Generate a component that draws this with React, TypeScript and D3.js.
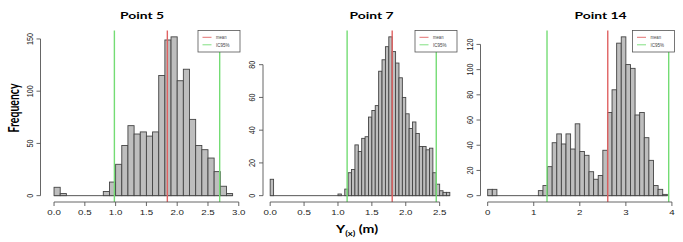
import * as d3 from "d3";

// histogram counts (bin width / start noted per panel)
const p5Counts = [8, 2, 0, 0, 0, 0, 0, 0, 4, 13, 30, 48, 67, 59, 61, 57, 61, 115, 149, 152, 110, 121, 73, 48, 44, 36, 23, 9, 2];
const p7Counts = [
  10, 0, 0, 0, 0, 0, 0, 0, 0, 0, 0, 0, 0, 0, 0, 0, 0, 0, 0, 0,
  1, 0, 4, 14, 16, 31, 27, 35, 36, 48, 52, 55, 76, 83, 91, 97,
  88, 81, 72, 60, 50, 41, 45, 38, 30, 30, 28, 29, 14, 7, 3, 2, 2,
];
const p14Counts = [5, 5, 0, 0, 0, 0, 0, 0, 0, 0, 0, 4, 8, 23, 42, 49, 41, 49, 37, 57, 35, 32, 19, 13, 16, 36, 66, 84, 121, 126, 104, 101, 64, 66, 46, 28, 8, 5, 1];

const p5XTicks = [0, 0.5, 1, 1.5, 2, 2.5, 3];
const p7XTicks = [0, 0.5, 1, 1.5, 2, 2.5];
const p14XTicks = [0, 1, 2, 3, 4];
const p5YTicks = [0, 50, 100, 150];
const p7YTicks = [0, 20, 40, 60, 80];
const p14YTicks = [0, 20, 40, 60, 80, 100, 120];

const titles = ["Point 5", "Point 7", "Point 14"];
const means = [1.84, 1.8, 2.607];
const ic95Low = [0.98, 1.135, 1.288];
const ic95High = [2.69, 2.45, 3.93];
const legendLabels = ["mean", "IC95%"];

const RED = "#e06262";
const GREEN = "#74dc74";
const SX = 1.35; // the picture is stretched sideways

const panels = [
  { counts: p5Counts, start: 0, lo: -0.1, bw: 0.1, xTicks: p5XTicks, fmt: d3.format(".1f"), yTicks: p5YTicks, px: [40.5, 240], titleX: 142 },
  { counts: p7Counts, start: 0, lo: 0, bw: 0.05, xTicks: p7XTicks, fmt: d3.format(".1f"), yTicks: p7YTicks, px: [263, 457], titleX: 371.5 },
  { counts: p14Counts, start: 0, lo: 0, bw: 0.1, xTicks: p14XTicks, fmt: d3.format("d"), yTicks: p14YTicks, px: [480.5, 674.5], titleX: 600.5 },
];

const Panel = ({ i }: { i: number }) => {
  const p = panels[i];
  const hi = p.start + p.counts.length * p.bw;
  const span = hi - p.lo;
  const x = d3.scaleLinear().domain([p.lo - 0.04 * span, hi + 0.04 * span]).range(p.px);
  const maxC = d3.max(p.counts)!;
  const y = d3.scaleLinear().domain([-0.04 * maxC, 1.04 * maxC]).range([202, 30.5]);
  const [left, right] = p.px;
  const top = 30.5;
  const bottom = 202;
  const xt = p.xTicks;
  const yt = p.yTicks;
  const lgX = right - 42;
  const lgY = top;

  return (
    <g>
      <text
        transform={`translate(${p.titleX},19) scale(${SX},1)`}
        textAnchor="middle"
        fontFamily="Lato, sans-serif"
        fontWeight="bold"
        fontSize={10.3}
        fill="#000"
      >
        {titles[i]}
      </text>

      {/* baseline under empty bins */}
      <line x1={x(p.start)} x2={x(hi)} y1={y(0)} y2={y(0)} stroke="#444" strokeWidth={0.9} />
      {p.counts.map((c, k) =>
        c > 0 ? (
          <rect
            key={k}
            x={x(p.start + k * p.bw)}
            y={y(c)}
            width={x(p.start + (k + 1) * p.bw) - x(p.start + k * p.bw)}
            height={y(0) - y(c)}
            fill="#bebebe"
            stroke="#444"
            strokeWidth={0.9}
          />
        ) : null
      )}

      {/* mean and confidence lines */}
      <line x1={x(means[i])} x2={x(means[i])} y1={top} y2={bottom} stroke={RED} strokeWidth={1.4} />
      <line x1={x(ic95Low[i])} x2={x(ic95Low[i])} y1={top} y2={bottom} stroke={GREEN} strokeWidth={1.4} />
      <line x1={x(ic95High[i])} x2={x(ic95High[i])} y1={top} y2={bottom} stroke={GREEN} strokeWidth={1.4} />

      {/* x axis */}
      <line x1={x(xt[0])} x2={x(xt[xt.length - 1])} y1={bottom} y2={bottom} stroke="#555" strokeWidth={0.9} />
      {xt.map((t) => (
        <g key={t}>
          <line x1={x(t)} x2={x(t)} y1={bottom} y2={bottom + 4} stroke="#555" strokeWidth={0.9} />
          <text
            transform={`translate(${x(t)},${bottom + 12.5}) scale(${SX},1)`}
            textAnchor="middle"
            fontFamily="Liberation Sans, Arial, sans-serif"
            fontSize={7.2}
            fill="#222"
          >
            {p.fmt(t)}
          </text>
        </g>
      ))}

      {/* y axis */}
      <line x1={left} x2={left} y1={y(yt[0])} y2={y(yt[yt.length - 1])} stroke="#555" strokeWidth={0.9} />
      {yt.map((t) => (
        <g key={t}>
          <line x1={left - 4} x2={left} y1={y(t)} y2={y(t)} stroke="#555" strokeWidth={0.9} />
          <text
            transform={`translate(${left - 8},${y(t)}) scale(${SX},1) rotate(-90)`}
            textAnchor="middle"
            fontFamily="Liberation Sans, Arial, sans-serif"
            fontSize={7.2}
            fill="#222"
          >
            {t}
          </text>
        </g>
      ))}

      {/* legend */}
      <rect x={lgX} y={lgY} width={42} height={21.5} fill="white" stroke="#555" strokeWidth={0.8} />
      {legendLabels.map((lab, k) => (
        <g key={lab}>
          <line
            x1={lgX + 4.5}
            x2={lgX + 13.5}
            y1={lgY + 6.8 + k * 7.5}
            y2={lgY + 6.8 + k * 7.5}
            stroke={k === 0 ? RED : GREEN}
            strokeWidth={0.9}
          />
          <text
            x={lgX + 18}
            y={lgY + 8.5 + k * 7.5}
            fontFamily="Liberation Sans, Arial, sans-serif"
            fontSize={5}
            fill="#444"
            textLength={k === 0 ? 10.5 : 13.5}
            lengthAdjust="spacingAndGlyphs"
          >
            {lab}
          </text>
        </g>
      ))}
    </g>
  );
};

export default function App() {
  return (
    <svg
      width={683}
      height={242}
      style={{ position: "absolute", left: 0, top: 0, background: "white" }}
    >
      <text
        transform={`translate(18.5,108) scale(${SX},1) rotate(-90)`}
        textAnchor="middle"
        fontFamily="Lato, sans-serif"
        fontWeight="bold"
        fontSize={10.5}
        fill="#000"
      >
        Frequency
      </text>
      {panels.map((_, i) => (
        <Panel key={i} i={i} />
      ))}
      <text
        transform={`translate(357,233) scale(${SX},1)`}
        textAnchor="middle"
        fontFamily="Lato, sans-serif"
        fontWeight="bold"
        fontSize={10.5}
        fill="#000"
      >
        Y
        <tspan fontSize={7} dy={2.5}>(x)</tspan>
        <tspan dy={-2.5}>{"\u00a0(m)"}</tspan>
      </text>
    </svg>
  );
}
